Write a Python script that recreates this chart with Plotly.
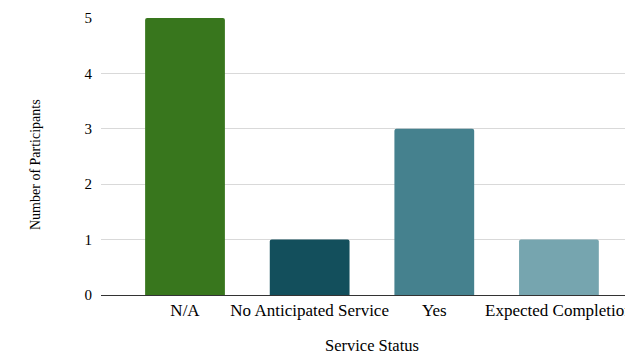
import plotly.graph_objects as go

categories = ["N/A", "No Anticipated Service", "Yes", "Expected Completion"]
values = [5, 1, 3, 1]
colors = ["#38761d", "#134f5c", "#45818e", "#76a5af"]

fam = "Liberation Serif"
W, H = 625, 354
L, R, T, B = 101, 0, 18, 59
pw, ph = W - L - R, H - T - B

fig = go.Figure(go.Bar(x=list(range(len(categories))), y=values, marker_color=colors,
                       width=0.64, marker_line_width=0))
fig.update_layout(
    width=W, height=H, margin=dict(l=L, r=R, t=T, b=B),
    paper_bgcolor="white", plot_bgcolor="white",
    font=dict(family=fam, size=14, color="#000000"), showlegend=False,
    barcornerradius=2,
    xaxis=dict(tickmode="array", tickvals=list(range(len(categories))), ticktext=categories,
               tickfont=dict(size=17, family=fam), ticklabeloverflow="allow", automargin=False,
               range=[-0.674, 3.53], showgrid=False, showline=True, linecolor="#333333", linewidth=1,
               ticks="", zeroline=False),
    yaxis=dict(range=[0, 5], dtick=1, showgrid=True, gridcolor="#d9d9d9", gridwidth=1, automargin=False,
               zeroline=False, ticks="", ticklabelstandoff=8, tickfont=dict(size=15, family=fam)),
    annotations=[
        dict(text="Service Status", xref="paper", yref="paper",
             x=(372 - L) / pw, y=(H - B - 345) / ph, xanchor="center", yanchor="middle",
             showarrow=False, font=dict(size=16.5, family=fam)),
        dict(text="Number of Participants", xref="paper", yref="paper", textangle=-90,
             x=(35 - L) / pw, y=(H - B - 165) / ph, xanchor="center", yanchor="middle",
             showarrow=False, font=dict(size=14, family=fam)),
    ],
)
fig.write_html("out.html")
